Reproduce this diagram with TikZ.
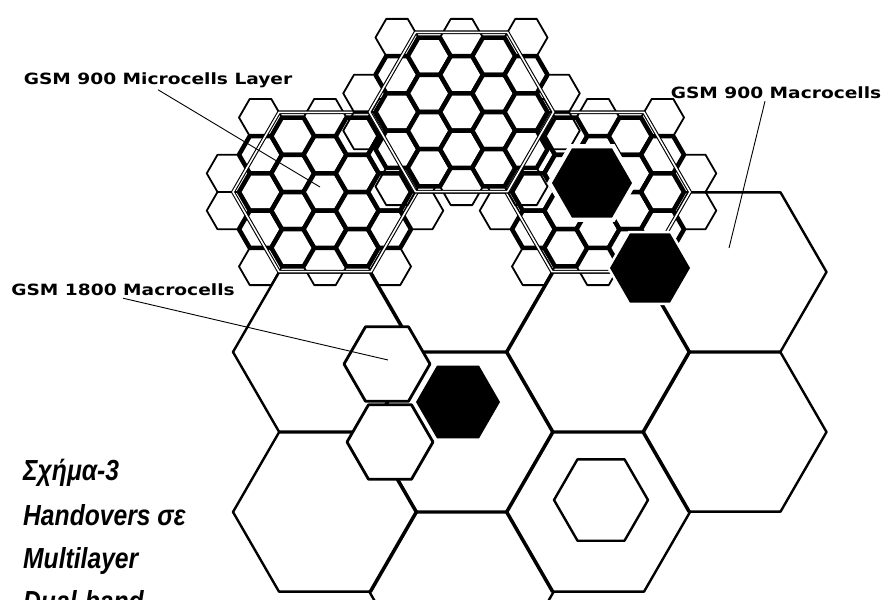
\documentclass[tikz,border=0pt]{standalone}
\usepackage{fontspec}
\setmainfont{Liberation Sans}
\newfontfamily\lblfont{DejaVu Sans}[FakeStretch=1.2]
\newfontfamily\capfont{Liberation Sans}[FakeStretch=0.85]

\tikzset{
  macro/.style={line width=2.4pt, line join=round},
  micro/.style={line width=4.5pt, fill=white, line join=round},
  microthin/.style={line width=1.8pt, line join=round},
  layer/.style={line width=1.1pt, double, double distance=1.6pt},
  dcs/.style={line width=2.8pt, fill=white, line join=round},
  busy/.style={draw=none, fill=black},
  halo/.style={draw=none, fill=white},
  leader/.style={line width=0.9pt},
  lbl/.style={font=\lblfont\bfseries\fontsize{15.5}{18}\selectfont, inner sep=2pt},
  caption/.style={font=\capfont\bfseries\itshape\fontsize{29}{34}\selectfont, anchor=base west, inner sep=0pt}
}

% style, centre x, centre y, radius
\newcommand{\hexcell}[4]{%
  \draw[#1, shift={(#2,#3)}] (0:#4) -- (60:#4) -- (120:#4) -- (180:#4) -- (240:#4) -- (300:#4) -- cycle;}

% one macrocell covered by microcells
\newcommand{\microlayer}[2]{%
  \foreach \i in {-3,...,3}{%
    \foreach \j in {-3,...,3}{%
      \pgfmathsetmacro{\dx}{32.25*\i}%
      \pgfmathsetmacro{\dy}{37.24*(\j+0.5*mod(abs(\i),2))}%
      \pgfmathsetmacro{\px}{#1+\dx}%
      \pgfmathsetmacro{\py}{#2+\dy}%
      \pgfmathtruncatemacro{\kind}{(abs(\dy)<=62 && 1.732*abs(\dx)+abs(\dy)<=151) ? 2 : ((abs(\dy)<=85 && 1.732*abs(\dx)+abs(\dy)<=190) ? 1 : 0)}%
      \ifnum\kind=1 \hexcell{microthin}{\px}{\py}{21.5}\fi
      \ifnum\kind=2 \hexcell{micro}{\px}{\py}{21.5}\fi
    }%
  }%
  \hexcell{layer}{#1}{#2}{92}}

\begin{document}
\begin{tikzpicture}[x=1pt, y=-1pt]
    \useasboundingbox (0,0) rectangle (885,599);
    \clip (0,0) rectangle (885,599);
    \pgfmathsetmacro{\R}{92}

    % GSM 900 macrocells
    \foreach \cx/\cy in {325/352, 325/512, 461.5/272, 461.5/432, 461.5/592, 598/352, 598/512, 734.5/272, 734.5/432}
        \hexcell{macro}{\cx}{\cy}{\R};
    \hexcell{macro}{601}{500}{47}

    % microcell layers
    \microlayer{325}{192}
    \microlayer{598}{192}
    \microlayer{461.5}{112}

    % GSM 1800 cells
    \hexcell{dcs}{387}{364}{43}
    \hexcell{dcs}{390}{442}{43}
    \hexcell{busy}{458}{402}{42}
    \hexcell{halo}{592}{183}{45}
    \hexcell{busy}{592}{183}{40}
    \hexcell{halo}{650}{268}{43}
    \hexcell{busy}{650}{268}{40}

    % labels
    \node[lbl] (lblMicro) at (158,80) {GSM 900 Microcells Layer};
    \node[lbl] (lblDcs) at (123,290) {GSM 1800 Macrocells};
    \node[lbl] (lblMacro) at (776,93) {GSM 900 Macrocells};
    \coordinate (tipMicro) at (320,187);
    \coordinate (tipDcs) at (388,360);
    \coordinate (tipMacro) at (729,248);
    \draw[leader] (lblMicro.south) -- (tipMicro);
    \draw[leader] (lblDcs.south) -- (tipDcs);
    \draw[leader] ([xshift=-11pt]lblMacro.south) -- (tipMacro);

    \node[caption] (capA) at (23,480) {Σχήμα-3};
    \node[caption] (capB) at (23,525) {Handovers σε};
    \node[caption] (capC) at (23,568) {Multilayer};
    \node[caption] (capD) at (23,611) {Dual-band};
\end{tikzpicture}
\end{document}
